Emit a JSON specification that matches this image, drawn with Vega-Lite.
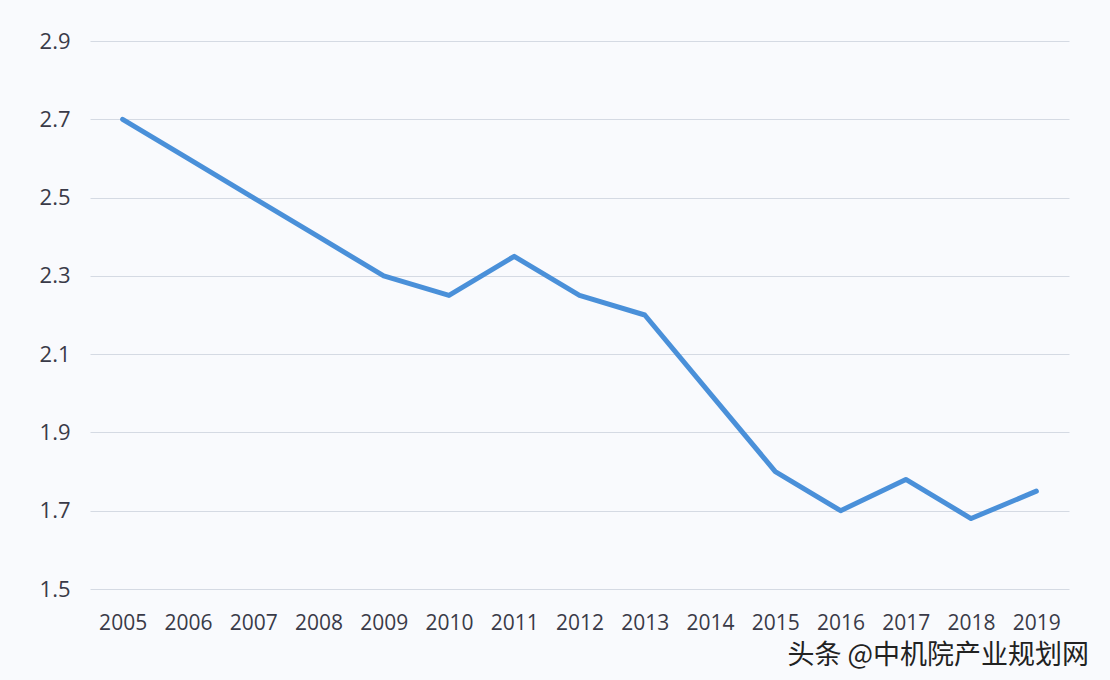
{
  "$schema": "https://vega.github.io/schema/vega-lite/v6.json",
  "width": 979,
  "height": 548,
  "autosize": "none",
  "padding": {"left": 90, "top": 41, "right": 41, "bottom": 91},
  "background": "#f9fafd",
  "title": {
    "text": "头条 @中机院产业规划网",
    "orient": "bottom",
    "anchor": "end",
    "font": "Noto Sans CJK SC",
    "fontSize": 27,
    "fontWeight": "normal",
    "color": "#222222",
    "offset": 10,
    "dx": 20
  },
  "data": {
    "values": [
      {"year": "2005", "value": 2.70},
      {"year": "2006", "value": 2.60},
      {"year": "2007", "value": 2.50},
      {"year": "2008", "value": 2.40},
      {"year": "2009", "value": 2.30},
      {"year": "2010", "value": 2.25},
      {"year": "2011", "value": 2.35},
      {"year": "2012", "value": 2.25},
      {"year": "2013", "value": 2.20},
      {"year": "2014", "value": 2.00},
      {"year": "2015", "value": 1.80},
      {"year": "2016", "value": 1.70},
      {"year": "2017", "value": 1.78},
      {"year": "2018", "value": 1.68},
      {"year": "2019", "value": 1.75}
    ]
  },
  "mark": {"type": "line", "color": "#4a90d9", "strokeWidth": 5, "strokeJoin": "round", "strokeCap": "round"},
  "encoding": {
    "x": {
      "field": "year",
      "type": "ordinal",
      "scale": {"type": "point", "padding": 0.5},
      "axis": {
        "title": null,
        "labelAngle": 0,
        "domain": false,
        "ticks": false,
        "grid": false,
        "labelFont": "Open Sans",
        "labelFontSize": 21,
        "labelColor": "#3a3a48",
        "labelPadding": 23
      }
    },
    "y": {
      "field": "value",
      "type": "quantitative",
      "scale": {"domain": [1.5, 2.9], "nice": false, "zero": false},
      "axis": {
        "title": null,
        "values": [1.5, 1.7, 1.9, 2.1, 2.3, 2.5, 2.7, 2.9],
        "format": ".1f",
        "domain": false,
        "ticks": false,
        "grid": true,
        "gridColor": "#d5dae3",
        "gridWidth": 1,
        "labelFont": "Open Sans",
        "labelFontSize": 22,
        "labelColor": "#3a3a48",
        "labelPadding": 20
      }
    }
  },
  "config": {"view": {"stroke": null}}
}
